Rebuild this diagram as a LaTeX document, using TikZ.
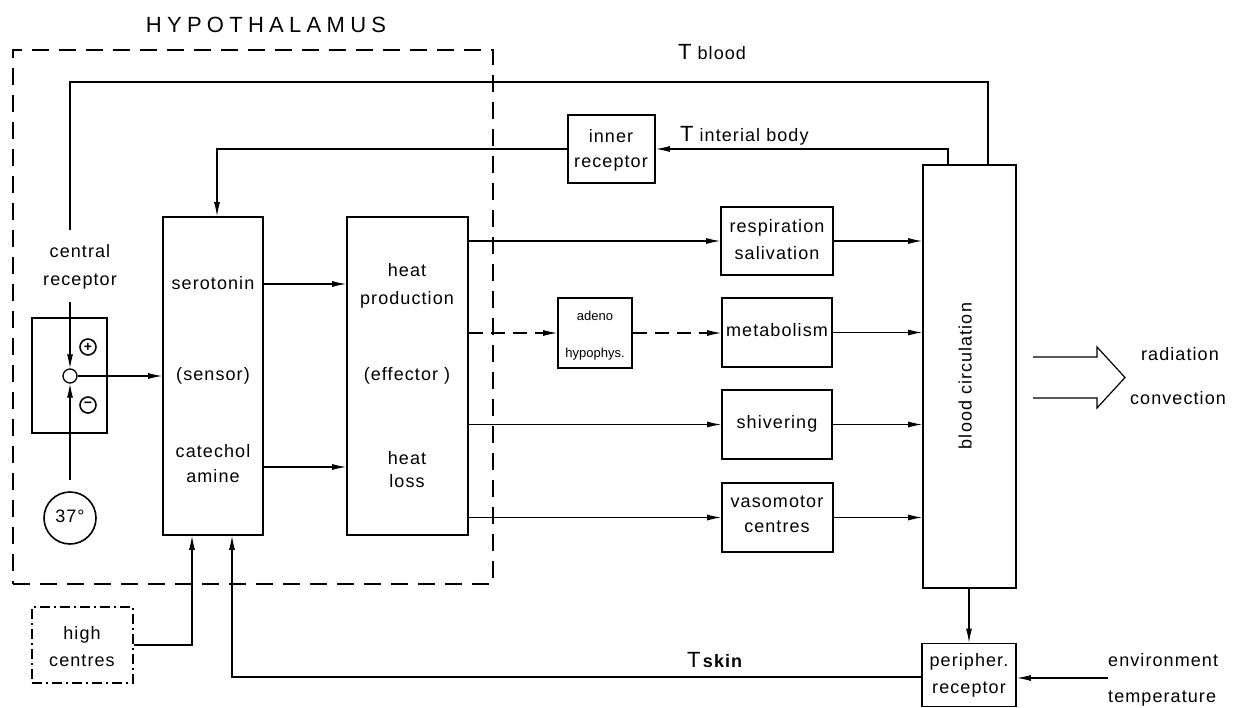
\documentclass[tikz,border=0pt]{standalone}
\usepackage{fontspec}
\setmainfont{Liberation Sans}[LetterSpace=6]
\usetikzlibrary{arrows.meta}
\begin{document}
\begin{tikzpicture}[x=1pt,y=-1pt,
  box/.style={draw, line width=1.7pt, inner sep=0pt},
  conn/.style={line width=1.1pt},
  arr/.style={conn, -{Latex[length=14pt,width=6pt]}},
  dsh/.style={dash pattern=on 14pt off 8pt},
  lbl/.style={inner sep=0pt, font=\fontsize{18}{18}\selectfont, text height=12.5pt, text depth=3.5pt},
  small/.style={inner sep=0pt, font=\fontsize{13}{13}\selectfont\addfontfeatures{LetterSpace=0}, text height=9pt, text depth=2pt},
]
\useasboundingbox (0,0) rectangle (1233,708);

% hypothalamus frame
\node[draw, line width=2.3pt, dash pattern=on 17pt off 10pt, inner sep=0pt,
      minimum width=480pt, minimum height=534pt] (hyp) at (253,317) {};
\node[inner sep=0pt, font=\fontsize{22}{22}\selectfont\addfontfeatures{LetterSpace=24}] (hyptxt) at (266,25) {HYPOTHALAMUS};

% boxes
\node[box, minimum width=100pt, minimum height=318pt] (sens) at (213,376) {};
\node[box, minimum width=121pt, minimum height=318pt] (eff) at (407.5,376) {};
\node[box, minimum width=75pt, minimum height=115pt] (crbox) at (69.5,375.5) {};
\node[draw, line width=1.3pt, dash pattern=on 10pt off 4pt on 2pt off 4pt, inner sep=0pt,
      minimum width=101pt, minimum height=76pt] (hc) at (82.5,645) {};
\node[box, minimum width=87pt, minimum height=68pt] (inner) at (611.5,149) {};
\node[box, minimum width=74pt, minimum height=70pt] (adeno) at (595,333) {};
\node[box, minimum width=112pt, minimum height=68pt] (resp) at (777,241) {};
\node[box, minimum width=110pt, minimum height=69pt] (meta) at (777,332.5) {};
\node[box, minimum width=110pt, minimum height=69pt] (shiv) at (777,424.5) {};
\node[box, minimum width=111pt, minimum height=69pt] (vaso) at (777.5,517.5) {};
\node[box, minimum width=93pt, minimum height=423pt] (blood) at (969.5,376.5) {};
\node[box, minimum width=94pt, minimum height=63pt] (per) at (969,675) {};

% circles
\node[draw, circle, line width=1.3pt, minimum size=14pt, inner sep=0pt] (sc) at (70,376) {};
\node[draw, circle, line width=1.6pt, minimum size=52pt, inner sep=0pt, lbl] (t37) at (70,518) {37°};
\node[draw, circle, line width=1.6pt, minimum size=16pt, inner sep=0pt,
      font=\fontsize{14}{14}\bfseries\selectfont] (plus) at (88,347) {+};
\node[draw, circle, line width=1.6pt, minimum size=16pt, inner sep=0pt,
      font=\fontsize{14}{14}\bfseries\selectfont] (minus) at (88,405) {−};

% texts
\node[lbl] (t1) at (80,253) {central};
\node[lbl] (t2) at (80,281) {receptor};
\node[lbl] (t3) at (213,285) {serotonin};
\node[lbl] (t4) at (213,376) {(sensor)};
\node[lbl] (t5) at (213,453) {catechol};
\node[lbl] (t6) at (213,478) {amine};
\node[lbl] (t7) at (407,272) {heat};
\node[lbl] (t8) at (407,300) {production};
\node[lbl] (t9) at (407,376) {(effector )};
\node[lbl] (t10) at (407,460) {heat};
\node[lbl] (t11) at (407,483) {loss};
\node[lbl] (t12) at (82,635) {high};
\node[lbl] (t13) at (82,662) {centres};
\node[lbl] (t14) at (611,138) {inner};
\node[lbl] (t15) at (611,163) {receptor};
\node[small] (t16) at (595,317) {adeno};
\node[small] (t17) at (595,354) {hypophys.};
\node[lbl] (t18) at (777,228) {respiration};
\node[lbl] (t19) at (777,255) {salivation};
\node[lbl] (t20) at (777,332) {metabolism};
\node[lbl] (t21) at (777,424) {shivering};
\node[lbl] (t22) at (777,503) {vasomotor};
\node[lbl] (t23) at (777,528) {centres};
\node[lbl, rotate=90] (t24) at (967,376) {blood circulation};
\node[lbl] (t25) at (969,662) {peripher.};
\node[lbl] (t26) at (969,689) {receptor};
\node[lbl, anchor=west] (t27) at (1108,662) {environment};
\node[lbl, anchor=west] (t28) at (1108,698) {temperature};
\node[lbl] (t29) at (1180,356) {radiation};
\node[lbl] (t30) at (1178,400) {convection};
\node[inner sep=0pt, anchor=base west, font=\fontsize{18}{18}\selectfont] (tblood) at (678,60)
  {{\fontsize{22}{22}\selectfont T}\hspace{6pt}blood};
\node[inner sep=0pt, anchor=base west, font=\fontsize{18}{18}\selectfont] (tint) at (680,142)
  {{\fontsize{22}{22}\selectfont T}\hspace{6pt}interial body};
\node[inner sep=0pt, anchor=base west, font=\fontsize{18}{18}\selectfont] (tskin) at (687,667)
  {{\fontsize{22}{22}\selectfont T}\hspace{1pt}\textbf{skin}};

% feedback loops
\coordinate (cr1) at (70,230);
\coordinate (cr2) at (70,302);
\draw[conn] ([xshift=18.5pt]blood.north) |- (cr1 |- 0,82) -- (cr1);
\draw[arr] (cr2) -- (sc.north);
\draw[arr] ([yshift=11pt]t37.north) -- (sc.south);
\draw[arr] (sc.east) -- (sc.east -| sens.west);
\draw[arr] ([xshift=-21.5pt]blood.north) |- (inner.east);
\draw[arr] (inner.west) -| ([xshift=4pt]sens.north);
\draw[arr] (hc.east) -| ([xshift=-21pt]sens.south);
\draw[arr] ([yshift=-2pt]per.west) -| ([xshift=19pt]sens.south);
\draw[arr] (blood.south -| per.north) -- (per.north);
\coordinate (env) at (1108,678);
\draw[arr] (env) -- (env -| per.east);

% sensor -> effector
\draw[arr] (sens.east |- 0,284) -- (eff.west |- 0,284);
\draw[arr] (sens.east |- 0,467) -- (eff.west |- 0,467);

% effector -> effectors
\draw[arr] (eff.east |- resp.west) -- (resp.west);
\draw[arr, dsh] (eff.east |- adeno.west) -- (adeno.west);
\draw[arr, dsh] (adeno.east) -- (adeno.east -| meta.west);
\draw[arr] (eff.east |- shiv.west) -- (shiv.west);
\draw[arr] (eff.east |- vaso.west) -- (vaso.west);

% effectors -> blood circulation
\draw[arr] (resp.east) -- (resp.east -| blood.west);
\draw[arr] (meta.east) -- (meta.east -| blood.west);
\draw[arr] (shiv.east) -- (shiv.east -| blood.west);
\draw[arr] (vaso.east) -- (vaso.east -| blood.west);

% heat output arrow
\draw[line width=1.2pt, line join=miter] (1033,357) -- (1097,357) -- (1097,347) -- (1125,377.5)
  -- (1097,408) -- (1097,398) -- (1033,398);
\end{tikzpicture}
\end{document}
